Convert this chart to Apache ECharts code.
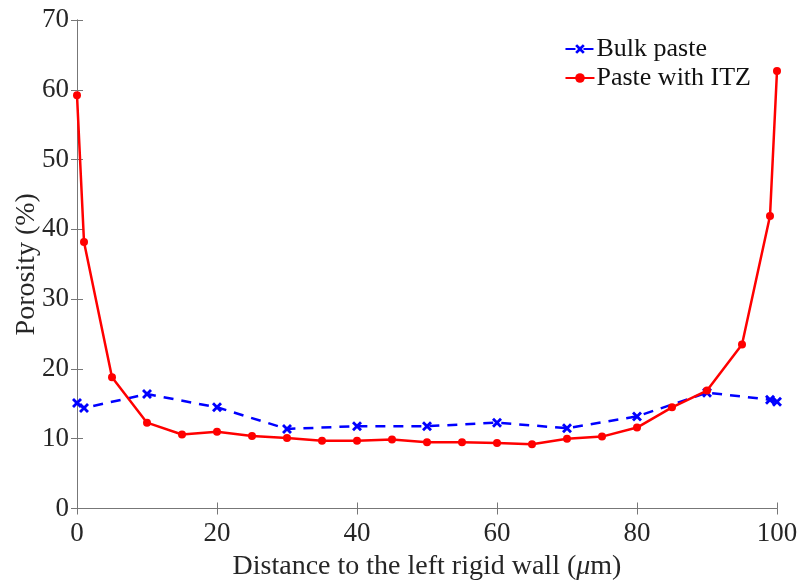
<!DOCTYPE html>
<html>
<head>
<meta charset="utf-8">
<script src="https://cdn.jsdelivr.net/npm/echarts@6/dist/echarts.min.js"></script>
<style>html,body{margin:0;padding:0;background:#fff;}#c{width:798px;height:584px;}</style>
</head>
<body>
<div id="c"></div>
<script>
var bulkX = [0, 1, 10, 20, 30, 40, 50, 60, 70, 80, 90, 99, 100];
var bulkY = [15.1, 14.4, 16.4, 14.5, 11.4, 11.8, 11.8, 12.3, 11.5, 13.2, 16.6, 15.6, 15.3];
var itzX = [0, 1, 5, 10, 15, 20, 25, 30, 35, 40, 45, 50, 55, 60, 65, 70, 75, 80, 85, 90, 95, 99, 100];
var itzY = [59.2, 38.2, 18.8, 12.3, 10.6, 11.0, 10.4, 10.1, 9.7, 9.7, 9.9, 9.5, 9.5, 9.4, 9.2, 10.0, 10.3, 11.6, 14.5, 16.9, 23.5, 41.9, 62.7];
var seriesNames = ['Bulk paste', 'Paste with ITZ'];
var xTicks = [0, 20, 40, 60, 80, 100];
var yTicks = [0, 10, 20, 30, 40, 50, 60, 70];

function pairs(xs, ys) { return xs.map(function (x, i) { return [x, ys[i]]; }); }

var FONT = 'Liberation Serif';
var axisColor = '#777';
var textColor = '#262626';
var xMark = 'path://M0,2 L2,0 L5,3 L8,0 L10,2 L7,5 L10,8 L8,10 L5,7 L2,10 L0,8 L3,5 Z';

var chart = echarts.init(document.getElementById('c'), null, {renderer: 'canvas'});
var baseAxisLine = {show: true, lineStyle: {color: axisColor, width: 1}};
var tickIn = {show: true, inside: true, length: 6, lineStyle: {color: axisColor}};
chart.setOption({
  animation: false,
  backgroundColor: '#fff',
  grid: {left: 77, right: 21, top: 20, bottom: 75.5, containLabel: false, outerBoundsMode: 'none'},
  legend: {
    right: 42, top: 31, orient: 'vertical', itemGap: 3,
    itemWidth: 29, itemHeight: 12,
    textStyle: {fontFamily: FONT, fontSize: 26, color: '#111', padding: [0, 0, 0, -3]},
    data: seriesNames
  },
  xAxis: [{
    type: 'value', min: xTicks[0], max: xTicks[xTicks.length - 1], interval: 20,
    axisLine: baseAxisLine, axisTick: tickIn, splitLine: {show: false},
    axisLabel: {fontFamily: FONT, fontSize: 27, color: textColor, margin: 12},
    name: '{n|Distance to the left rigid wall (}{i|μ}{n|m)}',
    nameLocation: 'middle', nameGap: 44,
    nameTextStyle: {rich: {n: {fontFamily: FONT, fontSize: 28, color: textColor}, i: {fontFamily: FONT, fontSize: 28, fontStyle: 'italic', color: textColor}}}
  }, {
    type: 'value', position: 'top', min: 0, max: 100, interval: 20,
    axisLine: baseAxisLine, axisTick: tickIn, axisLabel: {show: false}, splitLine: {show: false}
  }],
  yAxis: [{
    type: 'value', min: yTicks[0], max: yTicks[yTicks.length - 1], interval: 10,
    axisLine: baseAxisLine, axisTick: tickIn, splitLine: {show: false},
    axisLabel: {fontFamily: FONT, fontSize: 27, color: textColor, margin: 8},
    name: 'Porosity (%)', nameLocation: 'middle', nameGap: 36, nameMoveOverlap: false,
    nameTextStyle: {fontFamily: FONT, fontSize: 28, color: textColor}
  }, {
    type: 'value', position: 'right', min: 0, max: 70, interval: 10,
    axisLine: baseAxisLine, axisTick: tickIn, axisLabel: {show: false}, splitLine: {show: false}
  }],
  series: [{
    name: seriesNames[0], type: 'line', xAxisIndex: 0, yAxisIndex: 0,
    data: pairs(bulkX, bulkY),
    symbol: xMark, symbolSize: 10, showAllSymbol: true,
    lineStyle: {color: '#0000ff', width: 2.5, type: [10, 8]},
    itemStyle: {color: '#0000ff'}, z: 2
  }, {
    name: seriesNames[1], type: 'line', xAxisIndex: 0, yAxisIndex: 0,
    data: pairs(itzX, itzY),
    symbol: 'circle', symbolSize: 8, showAllSymbol: true,
    lineStyle: {color: '#ff0000', width: 2.5},
    itemStyle: {color: '#ff0000'}, z: 3
  }]
});
</script>
</body>
</html>
